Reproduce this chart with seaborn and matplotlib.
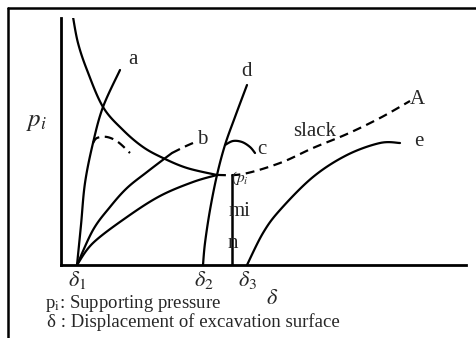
import numpy as np
import pandas as pd
import seaborn as sns
import matplotlib
matplotlib.use("Agg")
import matplotlib.pyplot as plt
from matplotlib.lines import Line2D

sns.set_style("white")
plt.rcParams['font.family'] = ['Liberation Serif', 'DejaVu Serif']
plt.rcParams['mathtext.fontset'] = 'stix'

# ---- data (delta, p_i) in arbitrary schematic units ----
ground_solid_x = [1.2, 1.7, 2.6, 4.2, 6.2, 8.2, 10.2, 12.6, 15.6]
ground_solid_y = [24.8, 22.2, 19.5, 15.8, 13.5, 11.8, 10.7, 9.7, 9.0]
ground_dash_x = [15.6, 18.2, 21.9, 25.2, 28.6, 31.9, 34.9]
ground_dash_y = [9.0, 9.1, 10.2, 11.7, 13.1, 14.7, 16.4]

curve_a_x = [1.6, 2.0, 2.4, 3.2, 4.2, 5.9]
curve_a_y = [0.0, 4.0, 8.2, 12.2, 15.8, 19.5]
hook_a_x = [3.2, 3.6, 4.6, 5.7, 6.9]
hook_a_y = [12.2, 12.7, 12.8, 12.3, 11.2]

curve_b_x = [1.6, 3.2, 4.9, 6.6, 8.6, 10.3, 11.1]
curve_b_y = [0.0, 3.5, 5.8, 7.7, 9.3, 10.6, 11.2]
curve_b_dash_x = [11.1, 12.3, 13.2]
curve_b_dash_y = [11.2, 11.8, 12.2]

curve_m_x = [1.6, 3.2, 6.6, 9.9, 13.2, 15.6]
curve_m_y = [0.0, 2.2, 4.8, 6.9, 8.3, 9.0]

curve_d_x = [14.2, 14.4, 14.9, 15.6, 16.4, 17.4, 18.6]
curve_d_y = [0.0, 2.2, 5.5, 9.0, 12.0, 14.8, 18.0]
hook_c_x = [16.4, 17.2, 18.1, 18.9, 19.4]
hook_c_y = [12.0, 12.4, 12.3, 11.8, 11.2]

line_n_x = [17.1, 17.1]
line_n_y = [0.0, 9.0]

curve_e_x = [18.6, 20.2, 21.9, 25.2, 28.6, 31.9, 33.9]
curve_e_y = [0.0, 3.2, 5.5, 8.8, 11.0, 12.2, 12.2]

delta_ticks = [1.6, 14.3, 18.6]
delta_labels = [r'$\delta_1$', r'$\delta_2$', r'$\delta_3$']

fig = plt.figure(figsize=(4.76, 3.38), dpi=100)
ax = fig.add_axes([61/476, 73/338, 405/476, 247/338])

def smooth(xs, ys, n=100):
    pts = np.stack([np.asarray(xs, float), np.asarray(ys, float)], 1)
    t = np.concatenate([[0], np.cumsum(np.hypot(*np.diff(pts, axis=0).T))])
    out = []
    for s in np.linspace(0, t[-1], n):
        i = min(np.searchsorted(t, s, side='right') - 1, len(t) - 2)
        u = (s - t[i]) / (t[i+1] - t[i])
        p0 = pts[max(i-1, 0)]; p1 = pts[i]; p2 = pts[i+1]; p3 = pts[min(i+2, len(pts)-1)]
        p = 0.5*((2*p1) + (-p0+p2)*u + (2*p0-5*p1+4*p2-p3)*u**2 + (-p0+3*p1-3*p2+p3)*u**3)
        out.append(p)
    out = np.array(out)
    return out[:, 0], out[:, 1]

def draw(xs, ys, dashed=False, lw=1.6, smooth_it=True):
    if smooth_it:
        xs, ys = smooth(xs, ys)
    df = pd.DataFrame({'x': xs, 'y': ys})
    sns.lineplot(data=df, x='x', y='y', ax=ax, sort=False, color='black',
                 lw=lw, linestyle=(0, (4, 2.5)) if dashed else '-', estimator=None)

draw(ground_solid_x, ground_solid_y)
draw(ground_dash_x, ground_dash_y, dashed=True)
draw(curve_a_x, curve_a_y)
draw(hook_a_x, hook_a_y, dashed=True)
draw(curve_b_x, curve_b_y)
draw(curve_b_dash_x, curve_b_dash_y, dashed=True)
draw(curve_m_x, curve_m_y)
draw(curve_d_x, curve_d_y)
draw(hook_c_x, hook_c_y)
draw(line_n_x, line_n_y, lw=1.8, smooth_it=False)
draw(curve_e_x, curve_e_y)

ax.set_xlim(0, 40.5)
ax.set_ylim(0, 24.7)
ax.set_xlabel(''); ax.set_ylabel('')
ax.set_xticks([]); ax.set_yticks([])
for s in ['top', 'right']:
    ax.spines[s].set_visible(False)
for s in ['left', 'bottom']:
    ax.spines[s].set_linewidth(2)
    ax.spines[s].set_color('black')

fs = 15
ax.text(6.7, 20.5, 'a', fontsize=fs, ha='left', va='center')
ax.text(13.6, 12.5, 'b', fontsize=fs, ha='left', va='center')
ax.text(20.1, 11.6, 'c', fontsize=fs, ha='center', va='center')
ax.text(18.6, 19.3, 'd', fontsize=fs, ha='center', va='center')
ax.text(34.9, 16.6, 'A', fontsize=fs, ha='left', va='center')
ax.text(35.3, 12.4, 'e', fontsize=fs, ha='left', va='center')
ax.text(25.4, 13.4, 'slack', fontsize=fs, ha='center', va='center')
ax.text(17.9, 8.7, r'($p_i$', fontsize=11, ha='center', va='center')
ax.text(17.9, 5.3, 'mi', fontsize=fs, ha='center', va='center')
ax.text(17.2, 2.2, 'n', fontsize=fs, ha='center', va='center')

for xv, lab in zip(delta_ticks, delta_labels):
    ax.text(xv, -0.4, lab, fontsize=16, ha='center', va='top')

fig.text(272/476, 1 - 299/338, r'$\delta$', fontsize=16, ha='center', va='center')
fig.text(37/476, 1 - 122/338, r'$p_i$', fontsize=18, ha='center', va='center')
fig.text(45/476, 1 - 303/338, r'p$_\mathrm{i}$: Supporting pressure', fontsize=13.5, ha='left', va='center')
fig.text(47/476, 1 - 322/338, 'δ : Displacement of excavation surface', fontsize=13.5, ha='left', va='center')

# outer frame
fig.add_artist(Line2D([8/476, 1], [1 - 8/338, 1 - 8/338], color='black', lw=1.8, transform=fig.transFigure))
fig.add_artist(Line2D([8/476, 8/476], [0, 1 - 8/338], color='black', lw=1.8, transform=fig.transFigure))

fig.savefig('out.png', dpi=100)
